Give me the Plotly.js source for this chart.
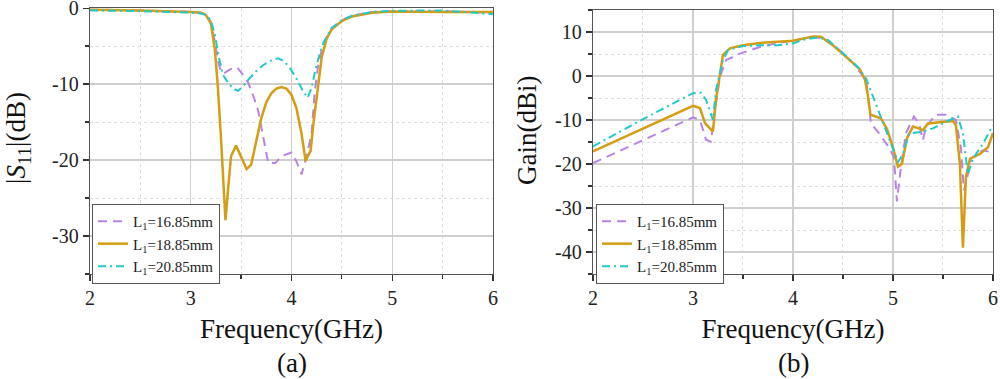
<!DOCTYPE html>
<html>
<head>
<meta charset="utf-8">
<script src="https://cdn.plot.ly/plotly-3.0.1.min.js"></script>
<style>html,body{margin:0;padding:0;background:#fff;}#chart{width:1000px;height:379px;}</style>
</head>
<body>
<div id="chart"></div>
<script>
// ---- Data: (a) |S11| ----
const s11_f_16 = [2.0, 2.5, 3.0, 3.1, 3.15, 3.2, 3.24, 3.28, 3.31, 3.34, 3.4, 3.46, 3.52, 3.57, 3.62, 3.67, 3.72, 3.77, 3.84, 3.9, 4.0, 4.05, 4.1, 4.15, 4.2, 4.23, 4.26, 4.3, 4.35, 4.4, 4.5, 4.6, 4.8, 5.0, 5.5, 6.0];
const s11_v_16 = [-0.2, -0.3, -0.5, -0.6, -0.9, -1.8, -4.5, -7.5, -8.6, -8.5, -8.0, -7.8, -8.8, -9.8, -11.5, -13.5, -17, -20.4, -20.4, -19.5, -19.0, -20.2, -21.9, -19.5, -16.5, -11.2, -8.0, -5.5, -3.8, -2.7, -1.6, -1.0, -0.5, -0.4, -0.4, -0.6];

const s11_f_18 = [2.0, 2.5, 3.0, 3.1, 3.15, 3.2, 3.24, 3.27, 3.3, 3.32, 3.345, 3.37, 3.4, 3.45, 3.5, 3.555, 3.6, 3.65, 3.7, 3.75, 3.8, 3.85, 3.9, 3.95, 4.0, 4.05, 4.1, 4.14, 4.19, 4.22, 4.26, 4.3, 4.35, 4.4, 4.5, 4.6, 4.8, 5.0, 5.5, 6.0];
const s11_v_18 = [-0.2, -0.3, -0.5, -0.6, -0.9, -2.0, -5.5, -10.5, -17, -22, -27.9, -24, -19.5, -18.1, -19.5, -21.2, -20.6, -17.5, -14.5, -12.4, -11.2, -10.6, -10.4, -10.6, -11.4, -13.2, -16.5, -20.1, -18.8, -15, -11, -6.5, -4.0, -2.8, -1.7, -1.1, -0.6, -0.45, -0.5, -0.5];

const s11_f_20 = [2.0, 2.5, 3.0, 3.1, 3.15, 3.2, 3.24, 3.28, 3.32, 3.37, 3.42, 3.47, 3.52, 3.58, 3.65, 3.72, 3.8, 3.87, 3.93, 4.0, 4.06, 4.11, 4.16, 4.2, 4.24, 4.28, 4.32, 4.4, 4.5, 4.6, 4.8, 5.0, 5.5, 6.0];
const s11_v_20 = [-0.3, -0.4, -0.6, -0.7, -0.9, -1.6, -3.5, -6.5, -8.8, -9.8, -10.6, -10.9, -10.3, -9.3, -8.3, -7.5, -6.9, -6.6, -7.0, -8.2, -9.5, -10.8, -11.8, -10.5, -8.0, -6.0, -4.5, -2.6, -1.6, -1.0, -0.5, -0.35, -0.3, -0.8];

// ---- Data: (b) Gain ----
const gain_f_16 = [2.0, 2.5, 3.0, 3.07, 3.13, 3.18, 3.22, 3.27, 3.33, 3.47, 3.67, 3.85, 4.0, 4.1, 4.2, 4.3, 4.45, 4.6, 4.7, 4.74, 4.78, 4.86, 4.96, 5.01, 5.04, 5.08, 5.13, 5.21, 5.26, 5.3, 5.33, 5.43, 5.53, 5.63, 5.68, 5.71, 5.75, 5.78, 5.9, 5.98, 6.0];
const gain_v_16 = [-19.8, -14.6, -9.4, -10, -14.5, -14.9, -7.7, -0.2, 3.6, 5.1, 6.6, 7.5, 8.0, 8.5, 8.8, 8.6, 6.2, 3.0, 0, -2.3, -10.8, -13, -16.2, -18.5, -28.5, -20.8, -13, -9.2, -10.8, -14.6, -11.5, -8.8, -8.8, -10, -16.2, -26, -22.3, -18.8, -16.9, -17.3, -17];

const gain_f_18 = [2.0, 2.5, 3.0, 3.07, 3.12, 3.18, 3.2, 3.23, 3.27, 3.3, 3.37, 3.5, 3.67, 3.85, 4.0, 4.1, 4.2, 4.28, 4.4, 4.5, 4.6, 4.67, 4.72, 4.75, 4.775, 4.88, 4.94, 5.0, 5.05, 5.09, 5.14, 5.2, 5.26, 5.3, 5.35, 5.45, 5.6, 5.63, 5.67, 5.7, 5.73, 5.77, 5.87, 5.95, 6.0];
const gain_v_18 = [-17.1, -12, -6.8, -7.3, -10.7, -12.2, -12.6, -5.4, 0.6, 4.8, 6.3, 7.0, 7.5, 7.8, 8.0, 8.5, 9.0, 8.9, 7.0, 5.0, 3.0, 1.5, -0.8, -4.5, -8.8, -9.6, -12, -16.2, -20.6, -20.0, -14.2, -11.5, -11.9, -12.3, -10.8, -10.6, -10.2, -11.2, -20, -39, -23, -18.8, -17.7, -16.2, -13];

const gain_f_20 = [2.0, 2.5, 3.0, 3.08, 3.13, 3.2, 3.23, 3.3, 3.35, 3.5, 3.67, 3.85, 4.0, 4.1, 4.25, 4.35, 4.5, 4.65, 4.73, 4.81, 4.93, 5.0, 5.05, 5.1, 5.16, 5.28, 5.4, 5.53, 5.65, 5.7, 5.75, 5.8, 5.9, 6.0];
const gain_v_20 = [-16, -9.8, -3.9, -3.8, -5.4, -10, -3.2, 3.6, 5.9, 6.8, 7.0, 7.0, 7.4, 8.2, 8.8, 8.2, 5.2, 2.0, -0.5, -5.4, -12.3, -16.5, -19.6, -17.7, -13.1, -12.7, -11.9, -10.4, -9.2, -13, -22.3, -18.8, -15.4, -11.2];

const seriesNames = ['L<sub>1</sub>=16.85mm', 'L<sub>1</sub>=18.85mm', 'L<sub>1</sub>=20.85mm'];
const xTickVals = [2, 3, 4, 5, 6];
const xTickText = ['2', '3', '4', '5', '6'];
const s11TickVals = [-30, -20, -10, 0];
const s11TickText = ['-30', '-20', '-10', '0'];
const gainTickVals = [-40, -30, -20, -10, 0, 10];
const gainTickText = ['-40', '-30', '-20', '-10', '0', '10'];

const FONT = 'Liberation Serif, Times New Roman, serif';
const C_PURPLE = '#B983E6', C_GOLD = '#D49D12', C_CYAN = '#22C9CB';
const styles = [
  {color: C_PURPLE, width: 2, dash: '9px,6px'},
  {color: C_GOLD, width: 2.5, dash: 'solid'},
  {color: C_CYAN, width: 2, dash: '8px,4px,2px,4px'}
];

function mk(x, y, i, xa, ya, leg) {
  return {x: x, y: y, type: 'scatter', mode: 'lines', name: seriesNames[i],
    line: Object.assign({shape: 'linear'}, styles[i]), xaxis: xa, yaxis: ya, legend: leg, hoverinfo: 'skip'};
}

const data = [
  mk(s11_f_16, s11_v_16, 0, 'x', 'y', 'legend'),
  mk(s11_f_18, s11_v_18, 1, 'x', 'y', 'legend'),
  mk(s11_f_20, s11_v_20, 2, 'x', 'y', 'legend'),
  mk(gain_f_16, gain_v_16, 0, 'x2', 'y2', 'legend2'),
  mk(gain_f_18, gain_v_18, 1, 'x2', 'y2', 'legend2'),
  mk(gain_f_20, gain_v_20, 2, 'x2', 'y2', 'legend2')
];

const TITLE_FONT = {family: FONT, size: 27, color: '#111'};

function xax(domain, anchor) {
  return {domain: domain, anchor: anchor, range: [2, 6.001], tickmode: 'array', tickvals: xTickVals, ticktext: xTickText,
    ticks: 'outside', ticklen: 6, tickwidth: 1.2,
    tickcolor: '#333', showline: true, mirror: true, linecolor: '#555', linewidth: 1.3, zeroline: false,
    showgrid: true, gridcolor: '#cfcfcf', gridwidth: 1.2,
    minor: {dtick: 0.5, tick0: 2, ticks: 'outside', ticklen: 4, tickcolor: '#333', showgrid: true, gridcolor: '#dcdcdc', griddash: 'dot', gridwidth: 1},
    tickfont: {family: FONT, size: 20, color: '#222'},
    title: {text: 'Frequency(GHz)', font: TITLE_FONT, standoff: 10},
    automargin: false, fixedrange: true};
}
function yax(domain, anchor, range, tv, tt) {
  return {domain: domain, anchor: anchor, range: range, tickmode: 'array', tickvals: tv, ticktext: tt,
    ticks: 'outside', ticklen: 6, tickwidth: 1.2, ticklabeloverflow: 'allow',
    tickcolor: '#333', showline: true, mirror: true, linecolor: '#555', linewidth: 1.3, zeroline: false,
    showgrid: true, gridcolor: '#cfcfcf', gridwidth: 1.2,
    minor: {dtick: 5, tick0: 0, ticks: 'outside', ticklen: 4, tickcolor: '#333', showgrid: true, gridcolor: '#dcdcdc', griddash: 'dot', gridwidth: 1},
    tickfont: {family: FONT, size: 20, color: '#222'},
    automargin: false, fixedrange: true};
}

const legBase = {xref: 'paper', yref: 'paper', xanchor: 'left', yanchor: 'top', bgcolor: '#fff', bordercolor: '#555', borderwidth: 1,
  font: {family: FONT, size: 15, color: '#222'}, tracegroupgap: 0, itemwidth: 30};

const layout = {
  width: 1000, height: 379, margin: {l: 0, r: 0, t: 0, b: 0},
  paper_bgcolor: '#fff', plot_bgcolor: '#fff', showlegend: true,
  xaxis: xax([0.09, 0.493], 'y'),
  yaxis: yax([0.277, 0.979], 'x', [-35, 0.02], s11TickVals, s11TickText),
  xaxis2: xax([0.593, 0.993], 'y2'),
  yaxis2: yax([0.277, 0.9736], 'x2', [-45, 15], gainTickVals, gainTickText),
  legend: Object.assign({x: 0.092, y: 0.462}, legBase),
  legend2: Object.assign({x: 0.596, y: 0.462}, legBase),
  annotations: [
    {text: '|<i>S</i><sub>11</sub>|(dB)', xref: 'paper', yref: 'paper', x: 0.018, y: 1 - 138 / 379, xanchor: 'center', yanchor: 'middle', textangle: -90, showarrow: false, font: TITLE_FONT},
    {text: 'Gain(dBi)', xref: 'paper', yref: 'paper', x: 0.527, y: 1 - 131 / 379, xanchor: 'center', yanchor: 'middle', textangle: -90, showarrow: false, font: TITLE_FONT},
    {text: '(a)', xref: 'paper', yref: 'paper', x: 0.2915, y: 1 - 363 / 379, xanchor: 'center', yanchor: 'middle', showarrow: false, font: TITLE_FONT},
    {text: '(b)', xref: 'paper', yref: 'paper', x: 0.793, y: 1 - 363 / 379, xanchor: 'center', yanchor: 'middle', showarrow: false, font: TITLE_FONT}
  ]
};

Plotly.newPlot('chart', data, layout, {displayModeBar: false, staticPlot: true});
</script>
</body>
</html>
